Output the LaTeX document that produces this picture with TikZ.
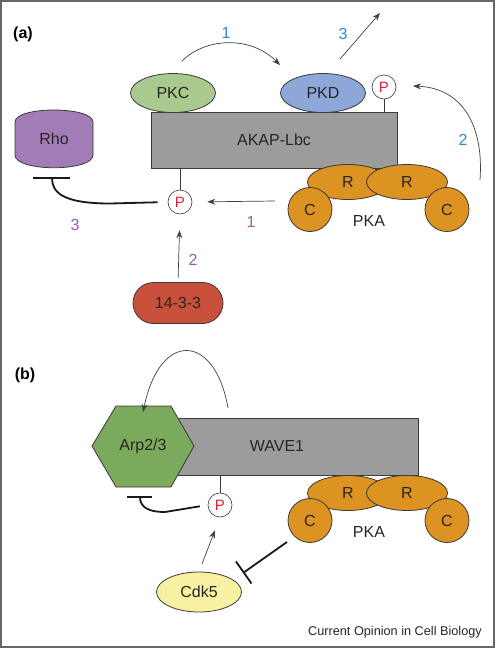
\documentclass[tikz,border=0pt]{standalone}
\usepackage{fontspec}
\setmainfont{Liberation Sans}
\usetikzlibrary{shapes.geometric,shapes.misc,arrows.meta}
\definecolor{akapgray}{HTML}{9C9C9C}
\definecolor{pkcgreen}{HTML}{A9C98E}
\definecolor{pkdblue}{HTML}{8DA8D8}
\definecolor{rhopurple}{HTML}{A27CB6}
\definecolor{redorange}{HTML}{C9503A}
\definecolor{pkaorange}{HTML}{DD9322}
\definecolor{arpgreen}{HTML}{7BAA5C}
\definecolor{cdkyellow}{HTML}{F8F1A2}
\definecolor{numblue}{HTML}{2F8BC9}
\definecolor{numpurple}{HTML}{9A5BA9}
\definecolor{pred}{HTML}{E2203C}
\definecolor{outline}{HTML}{3A3A3A}
\tikzset{
  lbl/.style={font=\fontsize{16}{19}\selectfont, text=black!85},
  shapeout/.style={draw=outline, line width=0.8pt},
  elli/.style={ellipse, shapeout, inner sep=0pt, lbl},
  pcirc/.style={circle, draw=outline, fill=white, line width=0.6pt, minimum size=24pt, inner sep=0pt, font=\fontsize{15}{18}\selectfont, text=pred},
  pkar/.style={ellipse, shapeout, fill=pkaorange, minimum width=81pt, minimum height=35pt, inner sep=0pt, lbl},
  pkac/.style={circle, shapeout, fill=pkaorange, minimum size=44pt, inner sep=0pt, lbl},
  bluenum/.style={font=\fontsize{16}{19}\selectfont, text=numblue},
  purplenum/.style={font=\fontsize{16}{19}\selectfont, text=numpurple},
  thinarrow/.style={draw=black!75, line width=0.7pt, -{Stealth[length=8pt,width=6pt]}},
  inhib/.style={draw=black!90, line width=1.8pt},
  stem/.style={draw=outline, line width=0.6pt},
  pka/.pic={
    \node[pkar] (-r1) at (348,0) {R};
    \node[pkar] (-r2) at (407,0) {R};
    \node[pkac] (-c1) at (310,27.5) {C};
    \node[pkac] (-c2) at (447,27.5) {C};
    \node[lbl] (-lab) at (369,38.5) {PKA};
  }
}
\begin{document}
\begin{tikzpicture}[x=1pt,y=-1pt]
\useasboundingbox (0,0) rectangle (497,649);
\draw[draw=black!60, line width=1.2pt] (1,1) rectangle (494,647);

% ---------------- panel (a)
\node[font=\fontsize{16}{19}\selectfont\bfseries] (la) at (23,34) {(a)};

\node[rectangle, shapeout, fill=akapgray, minimum width=246pt, minimum height=56pt, lbl] (akap) at (274,140) {AKAP-Lbc};
\node[elli, fill=pkcgreen, minimum width=85pt, minimum height=39pt] (pkc) at (173,93) {PKC};
\node[elli, fill=pkdblue, minimum width=85pt, minimum height=39pt] (pkd) at (323,93) {PKD};
\node[pcirc] (p1) at (384,87) {P};
\draw[stem] (p1.south) -- (p1.south |- akap.north);
\node[pcirc] (p2) at (180,202) {P};
\draw[stem] (p2.north) -- (p2.north |- akap.south);

\pic (pkaA) at (0,182) {pka};

% Rho barrel
\fill[rhopurple] (15,155) -- (15,122) .. controls (15,106) and (93,106) .. (93,122) -- (93,155) .. controls (93,172) and (15,172) .. (15,155) -- cycle;
\draw[shapeout] (15,155) -- (15,122) .. controls (15,106) and (93,106) .. (93,122) -- (93,155) .. controls (93,172) and (15,172) .. (15,155) -- cycle;
\node[lbl] (rho) at (54,139) {Rho};

\node[rounded rectangle, shapeout, fill=redorange, minimum width=90pt, minimum height=41pt, inner sep=0pt, lbl] (t1433) at (178,303) {14-3-3};

% connectors (a)
\coordinate (a1s) at (182,61);
\coordinate (a1e) at (280,65);
\draw[thinarrow] (a1s) .. controls (205,38) and (250,35) .. (a1e);
\coordinate (a3s) at (340,59);
\coordinate (a3e) at (380,13);
\draw[thinarrow] (a3s) -- (a3e);
\coordinate (a2s) at (480,180);
\coordinate (a2e) at (413,86);
\draw[thinarrow] (a2s) .. controls (484,125) and (462,88) .. (a2e);
\coordinate (pkaout) at (275,201);
\draw[thinarrow, shorten >=15pt] (pkaout) -- (p2.east);
\draw[thinarrow, shorten <=4pt, shorten >=16pt] (t1433.north) -- (p2.south);
\coordinate (rhoinh) at (52,178);
\draw[inhib, shorten <=10pt] (p2.west) -- (110,203.5) .. controls (62,203.5) and (52,192) .. (rhoinh);
\draw[inhib] (33,178) -- (70,178);

\node[bluenum] (n1b) at (226,33) {1};
\node[bluenum] (n3b) at (343,34) {3};
\node[bluenum] (n2b) at (463,140) {2};
\node[purplenum] (n3p) at (75,225) {3};
\node[purplenum] (n1p) at (251,222) {1};
\node[purplenum] (n2p) at (193,260) {2};

% ---------------- panel (b)
\node[font=\fontsize{16}{19}\selectfont\bfseries] (lb) at (25,375) {(b)};

\node[rectangle, shapeout, fill=akapgray, minimum width=246pt, minimum height=57pt, lbl] (wave) at (295,446.5) {};
\node[lbl] (wavelab) at (277,446) {WAVE1};
\fill[arpgreen] (92,446) -- (116,406) -- (171,406) -- (194,446) -- (171,487) -- (116,487) -- cycle;
\draw[shapeout] (92,446) -- (116,406) -- (171,406) -- (194,446) -- (171,487) -- (116,487) -- cycle;
\node[lbl] (arp) at (143,446) {Arp2/3};

\node[pcirc] (p3) at (220,505) {P};
\draw[stem] (p3.north) -- (p3.north |- wave.south);

\pic (pkaB) at (0,493) {pka};

\node[elli, fill=cdkyellow, minimum width=85pt, minimum height=40pt] (cdk) at (199,592) {Cdk5};

% connectors (b)
\coordinate (ss) at (228,408);
\coordinate (se) at (143,412);
\draw[thinarrow] (ss) .. controls (215,333) and (160,330) .. (se);
\coordinate (arpinh) at (140,497);
\draw[inhib, shorten <=8pt] (p3.west) -- (165,512) .. controls (148,512) and (140,507) .. (arpinh);
\draw[inhib] (127,497) -- (152,497);
\draw[thinarrow, shorten <=8pt, shorten >=14pt] (cdk.north) -- (p3.south);
\coordinate (pkainh) at (287,542);
\coordinate (cdkinh) at (243,573);
\draw[inhib, -{Bar[width=27pt]}] (pkainh) -- (cdkinh);

\node[font=\fontsize{12.7}{15}\selectfont, text=black!85] (credit) at (395,632) {Current Opinion in Cell Biology};
\end{tikzpicture}
\end{document}
